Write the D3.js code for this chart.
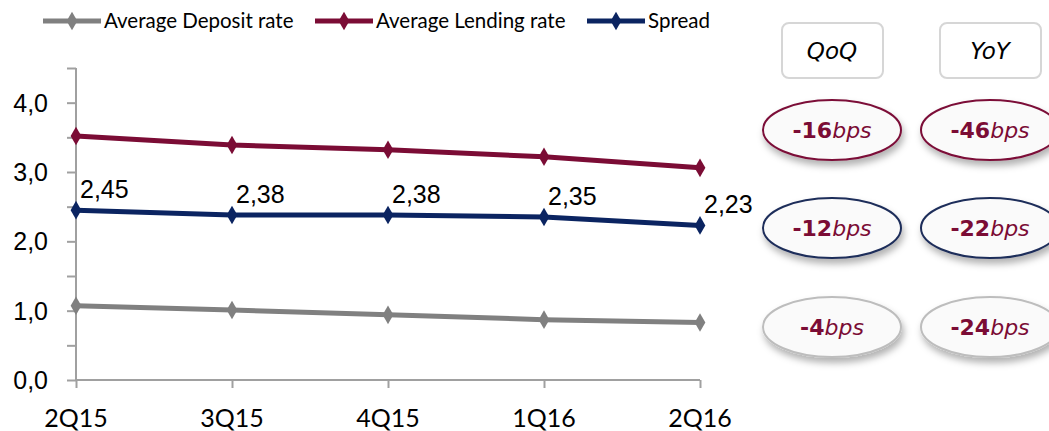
<!DOCTYPE html>
<html>
<head>
<meta charset="utf-8">
<script src="https://cdn.jsdelivr.net/npm/d3@7"></script>
<style>
  body { margin: 0; background: #fff; }
  svg { display: block; }
</style>
</head>
<body>
<div id="chart"></div>
<script>
// Data
let categories = ['2Q15', '3Q15', '4Q15', '1Q16', '2Q16'];
let deposit = [1.07, 1.01, 0.94, 0.87, 0.83];
let lending = [3.52, 3.39, 3.32, 3.22, 3.06];
let spread = [2.45, 2.38, 2.38, 2.35, 2.23];
let yTicks = [0, 1, 2, 3, 4];
let seriesNames = ['Average Deposit rate', 'Average Lending rate', 'Spread'];
let colors = ['#808080', '#7b0c35', '#0b2461'];
let ringColors = ['#7b1038', '#1f2d5a', '#bdbdbd'];
let headers = ['QoQ', 'YoY'];
let qoq = ['-16', '-12', '-4'];
let yoy = ['-46', '-22', '-24'];

// D3 Code
let width = 1049;
let height = 431;

let svg = d3.select('#chart').append('svg').attr('width', width).attr('height', height);

let defs = svg.append('defs');
let shadow = defs.append('filter').attr('id', 'shadow').attr('x', '-20%').attr('y', '-20%').attr('width', '140%').attr('height', '160%');
shadow.append('feDropShadow').attr('dx', 2).attr('dy', 5).attr('stdDeviation', 3.5).attr('flood-color', '#000').attr('flood-opacity', 0.3);

let x = d3.scalePoint().domain(categories).range([76, 700]);
let y = d3.scaleLinear().domain([0, 4.5]).range([380, 68]);

// y axis
let yAxis = svg.append('g').attr('transform', 'translate(76,0)')
  .call(d3.axisLeft(y).tickValues(d3.range(0, 4.51, 0.5)).tickSize(9).tickFormat(''));
yAxis.select('.domain').attr('stroke', '#a0a0a0').attr('stroke-width', 2).attr('d', 'M0,' + y(4.5) + 'V' + y(0));
yAxis.selectAll('line').attr('stroke', '#a0a0a0').attr('stroke-width', 2);

svg.selectAll('text.ylab')
  .data(yTicks)
  .enter()
  .append('text')
  .attr('class', 'ylab')
  .attr('x', 48)
  .attr('y', d => y(d) + 9)
  .attr('text-anchor', 'end')
  .style('font-family', 'Liberation Sans, Arial, sans-serif')
  .style('font-size', '25px')
  .text(d => d.toFixed(1).replace('.', ','));

// x axis
let xAxis = svg.append('g').attr('transform', 'translate(0,' + y(0) + ')')
  .call(d3.axisBottom(x).tickSize(8).tickFormat(''));
xAxis.select('.domain').attr('stroke', '#a0a0a0').attr('stroke-width', 2).attr('d', 'M76,0H700');
xAxis.selectAll('line').attr('stroke', '#a0a0a0').attr('stroke-width', 2);

svg.selectAll('text.xlab')
  .data(categories)
  .enter()
  .append('text')
  .attr('class', 'xlab')
  .attr('x', d => x(d))
  .attr('y', 427)
  .attr('text-anchor', 'middle')
  .style('font-family', 'Lato, sans-serif')
  .style('font-size', '25px')
  .text(d => d);

// lines
let series = [deposit, lending, spread];
let line = d3.line().x((d, i) => x(categories[i])).y(d => y(d));
let diamond = d3.symbol().type(d3.symbolDiamond).size(100);

series.forEach(function (values, s) {
  svg.append('path')
    .datum(values)
    .attr('d', line)
    .attr('fill', 'none')
    .attr('stroke', colors[s])
    .attr('stroke-width', 5);

  svg.selectAll('path.m' + s)
    .data(values)
    .enter()
    .append('path')
    .attr('class', 'm' + s)
    .attr('d', diamond)
    .attr('transform', (d, i) => 'translate(' + x(categories[i]) + ',' + y(d) + ')')
    .attr('fill', colors[s]);
});

// spread labels
svg.selectAll('text.vlab')
  .data(spread)
  .enter()
  .append('text')
  .attr('class', 'vlab')
  .attr('x', (d, i) => x(categories[i]) + 4)
  .attr('y', d => y(d) - 12)
  .style('font-family', 'Liberation Sans, Arial, sans-serif')
  .style('font-size', '25px')
  .text(d => d.toFixed(2).replace('.', ','));

// legend
let legendX = [43, 315, 587];
seriesNames.forEach(function (name, s) {
  let g = svg.append('g').attr('transform', 'translate(' + legendX[s] + ',21)');
  g.append('line').attr('x1', 0).attr('x2', 58).attr('stroke', colors[s]).attr('stroke-width', 5);
  g.append('path').attr('d', diamond).attr('transform', 'translate(29,0)').attr('fill', colors[s]);
  g.append('text')
    .attr('x', 61)
    .attr('y', 7)
    .style('font-family', 'Lato, sans-serif')
    .style('font-size', '20.5px')
    .text(name);
});

// QoQ / YoY boxes
let colX = [832, 990];
headers.forEach(function (h, c) {
  svg.append('rect')
    .attr('x', colX[c] - 50)
    .attr('y', 23)
    .attr('width', 101)
    .attr('height', 55)
    .attr('rx', 7)
    .attr('fill', '#fff')
    .attr('stroke', '#d6d6d6')
    .attr('stroke-width', 2);
  svg.append('text')
    .attr('x', colX[c])
    .attr('y', 59)
    .attr('text-anchor', 'middle')
    .style('font-family', 'DejaVu Sans, Verdana, sans-serif')
    .style('font-style', 'italic')
    .style('font-size', '23px')
    .text(h);
});

// bubbles
let rowY = [130, 228, 327];
[qoq, yoy].forEach(function (vals, c) {
  vals.forEach(function (v, r) {
    svg.append('ellipse')
      .attr('cx', colX[c])
      .attr('cy', rowY[r])
      .attr('rx', 69)
      .attr('ry', 30)
      .attr('fill', '#fafafa')
      .attr('stroke', ringColors[r])
      .attr('stroke-width', 2)
      .attr('filter', 'url(#shadow)');
    let t = svg.append('text')
      .attr('x', colX[c])
      .attr('y', rowY[r] + 8)
      .attr('text-anchor', 'middle')
      .style('font-family', 'DejaVu Sans, Verdana, sans-serif')
      .style('font-size', '22px')
      .attr('fill', '#7b0c35');
    t.append('tspan').style('font-weight', 'bold').text(v);
    t.append('tspan').style('font-style', 'italic').text('bps');
  });
});
</script>
</body>
</html>
